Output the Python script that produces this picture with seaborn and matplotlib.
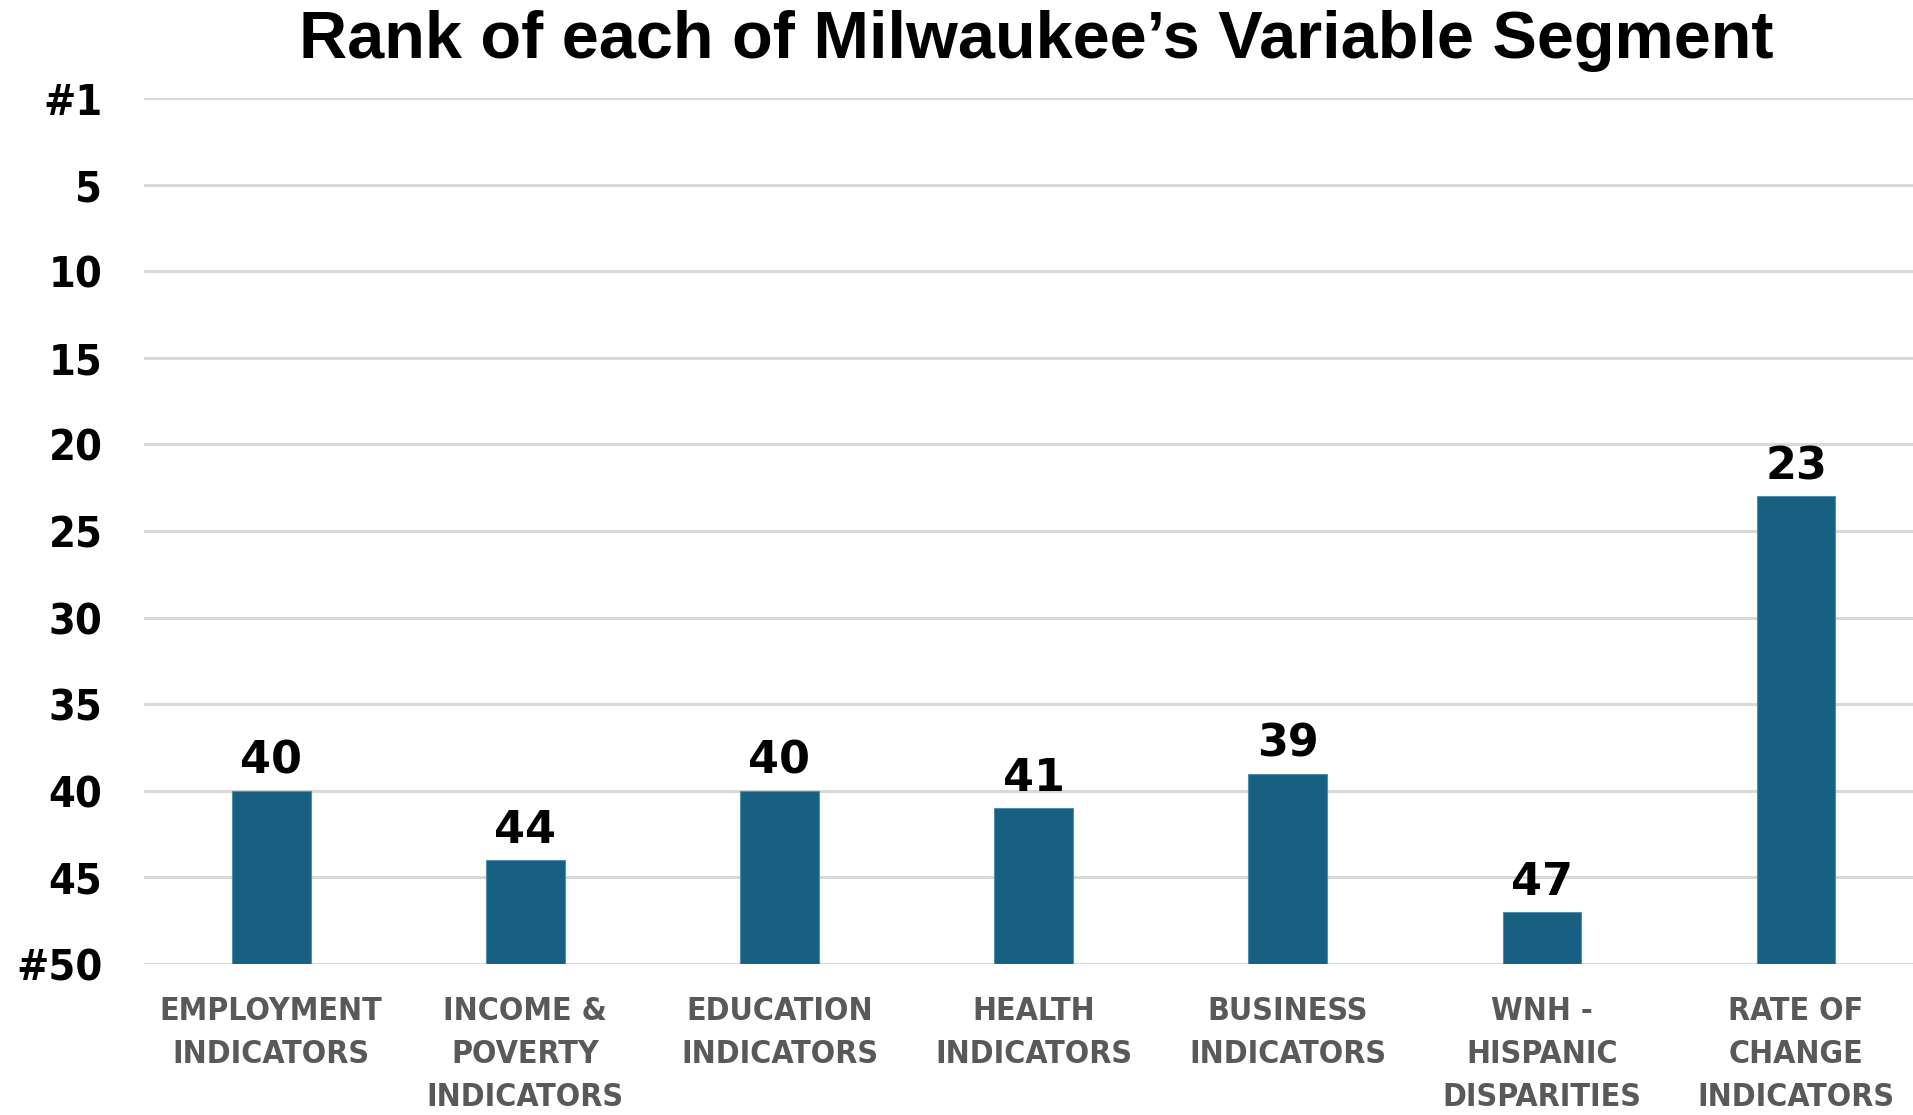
import pandas as pd
import matplotlib.pyplot as plt
import seaborn as sns

# Chart data
categories = [
    "EMPLOYMENT\nINDICATORS",
    "INCOME &\nPOVERTY\nINDICATORS",
    "EDUCATION\nINDICATORS",
    "HEALTH\nINDICATORS",
    "BUSINESS\nINDICATORS",
    "WNH -\nHISPANIC\nDISPARITIES",
    "RATE OF\nCHANGE\nINDICATORS",
]
ranks = [40, 44, 40, 41, 39, 47, 23]
worst_rank = 50
tick_ranks = [50, 45, 40, 35, 30, 25, 20, 15, 10, 5, 1]
tick_labels = ["#50", "45", "40", "35", "30", "25", "20", "15", "10", "5", "#1"]

df = pd.DataFrame({"Segment": categories, "Rank": ranks})
# bars grow up from rank #50, so draw the distance from the bottom
df["Height"] = worst_rank - df["Rank"]

sns.set_theme(style="white")
plt.rcParams["font.family"] = ["DejaVu Sans"]

fig = plt.figure(figsize=(19.13, 11.15), dpi=100)
ax = fig.add_axes([0.0753, 0.1354, 0.9247, 0.7766])

sns.barplot(data=df, x="Segment", y="Height", color="#176081", width=0.31,
            edgecolor="#4f8fae", linewidth=0.8, saturation=1, ax=ax, zorder=3)

# Gridlines at every tick; top tick (#1) sits at the top of the axis
ax.set_ylim(0, 50)
ax.set_yticks([worst_rank - r if r != 1 else 50 for r in tick_ranks])
ax.set_yticklabels(tick_labels, fontsize=31, fontweight="bold", color="black",
                   fontstretch="condensed")
ax.yaxis.grid(True, color="#d9d9d9", linewidth=2.2, zorder=0)
ax.tick_params(axis="y", length=0, pad=30)
ax.tick_params(axis="x", length=0, pad=23)
ax.set_xlim(-0.5, 6.46)

for lab in ax.get_xticklabels():
    lab.set_fontsize(23)
    lab.set_fontweight("bold")
    lab.set_color("#595959")
    lab.set_fontstretch("condensed")
    lab.set_linespacing(1.5)
    lab.set_verticalalignment("top")

ax.bar_label(ax.containers[0], labels=[str(r) for r in ranks], padding=6,
             fontsize=32, fontweight="bold", color="black")

for side in ["top", "right", "left", "bottom"]:
    ax.spines[side].set_visible(False)

ax.set_xlabel("")
ax.set_ylabel("")
fig.text(0.5415, 0.963, "Rank of each of Milwaukee\u2019s Variable Segment",
         ha="center", va="center", fontsize=48, fontweight="bold", color="black",
         family=["Liberation Sans", "DejaVu Sans"])

plt.savefig("out.png", dpi=100)
